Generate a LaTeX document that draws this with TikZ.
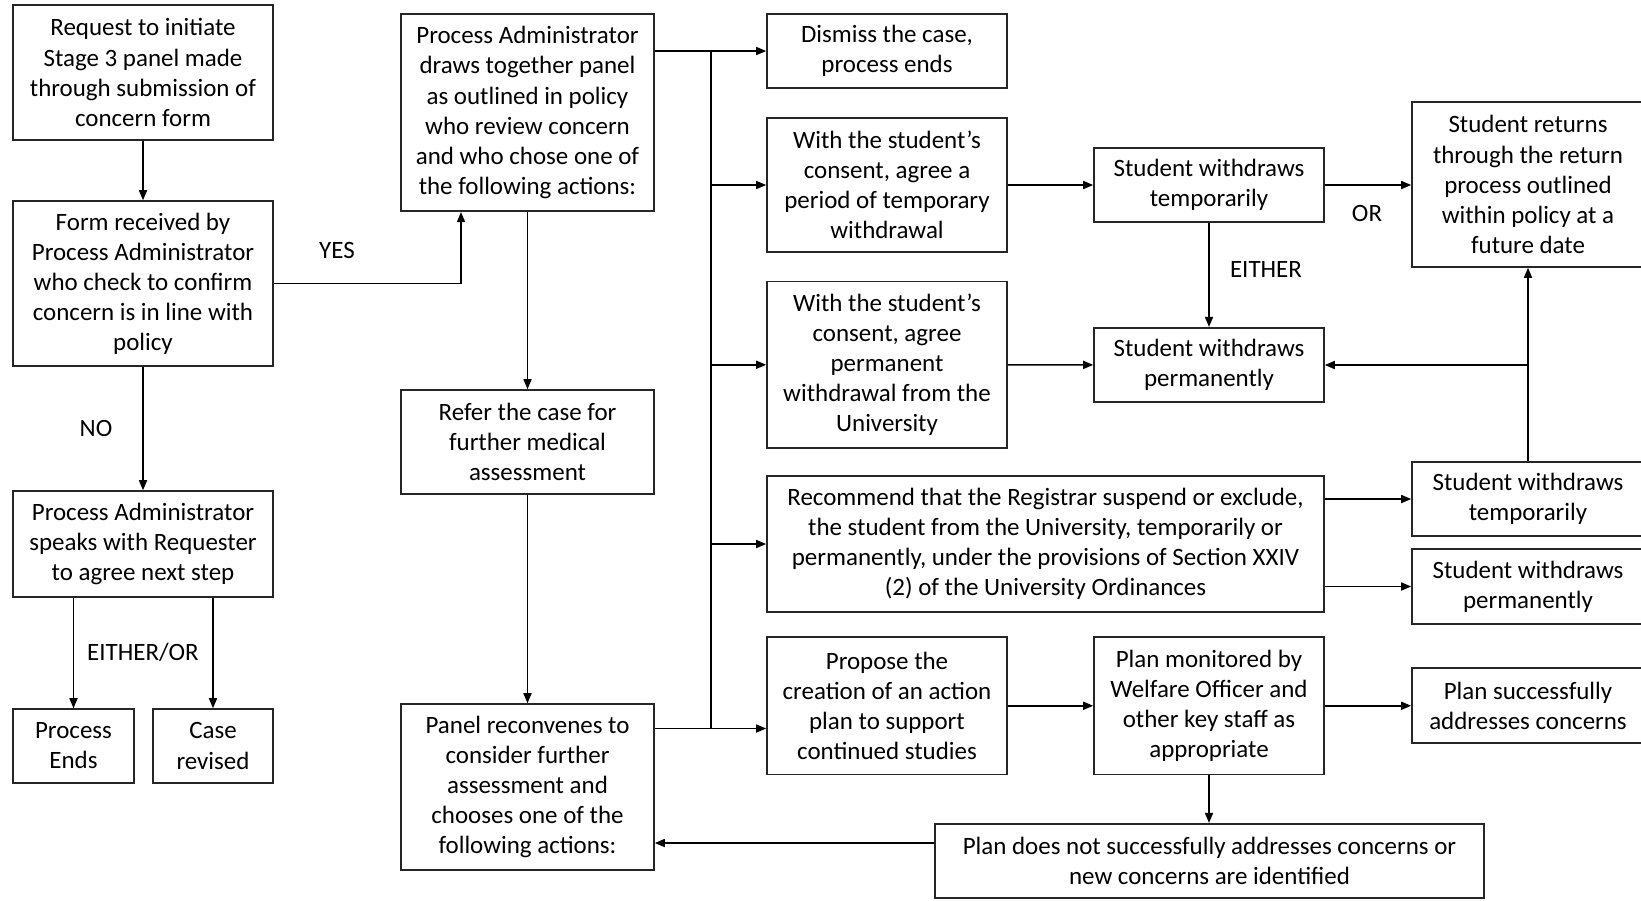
\documentclass[tikz,border=0pt]{standalone}
\usepackage{fontspec}
\setmainfont{Carlito}
\usetikzlibrary{arrows.meta}
\tikzset{
  box/.style 2 args = {draw=black!85, line width=0.9pt, align=center,
                inner sep=0pt, minimum width=#1cm, minimum height=#2cm,
                font=\fontsize{14.2}{17.1}\selectfont},
  lbl/.style = {inner sep=0pt, font=\fontsize{14.2}{17.1}\selectfont},
  arr/.style = {line width=0.9pt, -{Triangle[length=2mm,width=1.6mm]}}
}

\begin{document}
\begin{tikzpicture}
	\useasboundingbox (0,0) rectangle (32.82,-18);

	% Left column
	\node[box={5.2}{2.7}]  (req)     at (2.86,-1.45)  {Request to initiate\\Stage 3 panel made\\through submission of\\concern form};
	\node[box={5.2}{3.3}]  (form)    at (2.86,-5.67)  {Form received by\\Process Administrator\\who check to confirm\\concern is in line with\\policy};
	\node[box={5.2}{2.12}] (speak)   at (2.86,-10.88) {Process Administrator\\speaks with Requester\\to agree next step};
	\node[box={2.42}{1.48}] (ends)   at (1.47,-14.92) {Process\\Ends};
	\node[box={2.4}{1.48}] (revised) at (4.26,-14.92) {Case\\revised};

	% Panel column
	\node[box={5.06}{3.95}] (draws)  at (10.55,-2.25)  {Process Administrator\\draws together panel\\as outlined in policy\\who review concern\\and who chose one of\\the following actions:};
	\node[box={5.06}{2.08}] (refer)  at (10.55,-8.84)  {Refer the case for\\further medical\\assessment};
	\node[box={5.06}{3.32}] (panel)  at (10.55,-15.74) {Panel reconvenes to\\consider further\\assessment and\\chooses one of the\\following actions:};

	% Actions
	\node[box={4.8}{1.49}]  (dismiss)   at (17.74,-1.02)   {Dismiss the case,\\process ends};
	\node[box={4.8}{2.68}]  (tempagree) at (17.74,-3.70)   {With the student’s\\consent, agree a\\period of temporary\\withdrawal};
	\node[box={4.8}{3.33}]  (permagree) at (17.74,-7.295)  {With the student’s\\consent, agree\\permanent\\withdrawal from the\\University};
	\node[box={11.14}{2.72}] (recommend) at (20.91,-10.88) {Recommend that the Registrar suspend or exclude,\\the student from the University, temporarily or\\permanently, under the provisions of Section XXIV\\(2) of the University Ordinances};
	\node[box={4.8}{2.75}]  (propose)   at (17.74,-14.115) {Propose the\\creation of an action\\plan to support\\continued studies};

	% Outcomes
	\node[box={4.6}{1.49}]  (swtemp)  at (24.18,-3.70)   {Student withdraws\\temporarily};
	\node[box={4.6}{1.49}]  (swperm)  at (24.18,-7.30)   {Student withdraws\\permanently};
	\node[box={4.6}{2.75}]  (monitor) at (24.18,-14.115) {Plan monitored by\\Welfare Officer and\\other key staff as\\appropriate};
	\node[box={10.99}{1.49}] (notok)  at (24.19,-17.22)  {Plan does not successfully addresses concerns or\\new concerns are identified};

	% Far right (cut by page edge)
	\node[box={4.64}{3.3}]  (return)  at (30.56,-3.69)  {Student returns\\through the return\\process outlined\\within policy at a\\future date};
	\node[box={4.64}{1.49}] (swtemp2) at (30.56,-9.98)  {Student withdraws\\temporarily};
	\node[box={4.64}{1.5}]  (swperm2) at (30.56,-11.73) {Student withdraws\\permanently};
	\node[box={4.64}{1.5}]  (success) at (30.56,-14.11) {Plan successfully\\addresses concerns};

	% Labels
	\node[lbl] (yes)    at (6.74,-5.0)   {YES};
	\node[lbl] (no)     at (1.92,-8.56)  {NO};
	\node[lbl] (eo)     at (2.86,-13.04) {EITHER/OR};
	\node[lbl] (either) at (25.32,-5.38) {EITHER};
	\node[lbl] (or)     at (27.34,-4.27) {OR};

	% Left connectors
	\draw[arr] (req) -- (form);
	\draw[arr] (form) -- (speak);
	\draw[arr] (speak.south -| ends.north) -- (ends.north);
	\draw[arr] (speak.south -| revised.north) -- (revised.north);
	\draw[arr] (form.east) -| ([xshift=-1.33cm]draws.south);
	\draw[arr] (draws) -- (refer);
	\draw[arr] (refer) -- (panel);

	% Bus
	\coordinate (busbot) at (14.22,-14.57);
	\draw[arr] (draws.east |- dismiss.west) -- (dismiss.west);
	\draw[line width=0.9pt] (busbot |- dismiss.west) -- (busbot);
	\draw[arr] (panel.east |- busbot) -- (propose.west |- busbot);
	\draw[arr] (busbot |- tempagree.west) -- (tempagree.west);
	\draw[arr] (busbot |- permagree.west) -- (permagree.west);
	\draw[arr] (busbot |- recommend.west) -- (recommend.west);

	% Right connectors
	\draw[arr] (tempagree) -- (swtemp);
	\draw[arr] (permagree) -- (swperm);
	\draw[arr] (swtemp) -- (swperm);
	\draw[arr] (swtemp.east) -- (swtemp.east -| return.west);
	\draw[arr] (swtemp2) -- (return);
	\draw[arr] (swtemp2.north |- swperm.east) -- (swperm.east);
	\draw[arr] (recommend.east |- swtemp2.west) -- (swtemp2.west);
	\draw[arr] (recommend.east |- swperm2.west) -- (swperm2.west);
	\draw[arr] (propose) -- (monitor);
	\draw[arr] (monitor.east) -- (monitor.east -| success.west);
	\draw[arr] (monitor.south) -- (monitor.south |- notok.north);
	\coordinate (back) at ([yshift=0.36cm]notok.west);
	\draw[arr] (back) -- (back -| panel.east);
\end{tikzpicture}
\end{document}
